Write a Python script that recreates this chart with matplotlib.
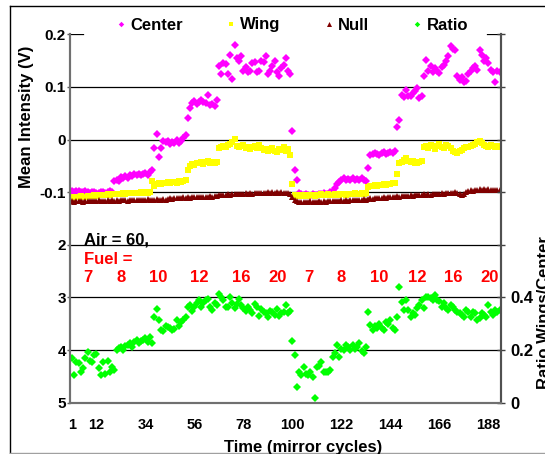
import numpy as np
import matplotlib
matplotlib.use("Agg")
import matplotlib.pyplot as plt
from matplotlib.lines import Line2D

plt.rcParams['font.family'] = ['Liberation Sans', 'DejaVu Sans']
plt.rcParams['font.weight'] = 'bold'

# mean intensity (V) per mirror cycle
center = [-0.098, -0.099, -0.097, -0.098, -0.100, -0.099, -0.098, -0.100, -0.101, -0.099,
          -0.100, -0.101, -0.102, -0.100, -0.099, -0.101, -0.100, -0.098, -0.099,
          -0.079, -0.076, -0.078, -0.072, -0.074, -0.070, -0.073, -0.067, -0.069, -0.066,
          -0.068, -0.065, -0.067, -0.066, -0.064, -0.068, -0.062, -0.058,
          -0.016, 0.010, -0.034, -0.016,
          -0.003, -0.005, -0.002, -0.008, -0.004, -0.006, -0.001, -0.007, -0.003, 0.002, 0.008,
          0.041, 0.060,
          0.070, 0.074, 0.068, 0.072, 0.075, 0.071, 0.069, 0.085, 0.066, 0.068, 0.063, 0.076,
          0.139, 0.125, 0.146, 0.144, 0.124, 0.161, 0.115, 0.179, 0.155, 0.150, 0.158, 0.130,
          0.137, 0.128, 0.130, 0.146, 0.147, 0.129, 0.130, 0.150, 0.147, 0.158, 0.125, 0.130,
          0.140, 0.150, 0.128, 0.120, 0.135, 0.142, 0.155, 0.131, 0.125,
          0.016, -0.058, -0.077,
          -0.101, -0.104, -0.106, -0.103, -0.105, -0.107, -0.104, -0.106, -0.105, -0.103,
          -0.104, -0.102, -0.104, -0.103, -0.100, -0.098,
          -0.092, -0.085, -0.080,
          -0.076, -0.074, -0.077, -0.075, -0.076, -0.074, -0.076, -0.075, -0.077, -0.074,
          -0.076, -0.078,
          -0.054,
          -0.030, -0.027, -0.025, -0.028, -0.029, -0.026, -0.024, -0.027, -0.025, -0.023,
          -0.026, -0.022,
          0.024, 0.038,
          0.085, 0.080, 0.095, 0.082, 0.083, 0.088, 0.092, 0.098, 0.078, 0.082,
          0.120, 0.152,
          0.130, 0.139, 0.128, 0.135, 0.130, 0.127, 0.138, 0.142,
          0.150, 0.158, 0.177, 0.172, 0.171,
          0.120, 0.113, 0.118, 0.110, 0.112,
          0.125, 0.130, 0.135, 0.140, 0.132, 0.171,
          0.160, 0.150, 0.155, 0.145,
          0.132, 0.128, 0.110, 0.130, 0.128]

wing = [-0.110, -0.111, -0.109, -0.110, -0.108, -0.109, -0.110, -0.108, -0.107, -0.108,
        -0.106, -0.107, -0.106, -0.105, -0.106, -0.105, -0.104, -0.105, -0.104,
        -0.104, -0.103, -0.104, -0.103, -0.102, -0.103, -0.102, -0.101, -0.102, -0.101,
        -0.102, -0.101, -0.100, -0.101, -0.100, -0.101, -0.099, -0.078,
        -0.088, -0.085, -0.083, -0.084, -0.082, -0.083, -0.081, -0.082, -0.080, -0.081,
        -0.082, -0.079, -0.080, -0.078, -0.076,
        -0.058, -0.050, -0.046, -0.048, -0.044, -0.045, -0.042, -0.046, -0.043, -0.041,
        -0.044, -0.042, -0.045, -0.043,
        -0.016, -0.014, -0.012, -0.015, -0.011, -0.008, -0.004, 0.001, -0.012, -0.015,
        -0.013, -0.010, -0.016, -0.014, -0.018, -0.015, -0.012, -0.016, -0.011, -0.017,
        -0.020, -0.018, -0.022, -0.019, -0.016, -0.021, -0.023, -0.018, -0.020, -0.015,
        -0.022, -0.018, -0.030,
        -0.084,
        -0.106, -0.107, -0.108, -0.106, -0.107, -0.105, -0.108, -0.106, -0.105, -0.107,
        -0.106, -0.105, -0.104, -0.106, -0.105, -0.104, -0.106, -0.105, -0.104, -0.103,
        -0.105, -0.104, -0.103, -0.105, -0.104, -0.103, -0.104, -0.102, -0.103, -0.104,
        -0.102, -0.103, -0.101,
        -0.090, -0.088, -0.089, -0.087, -0.088, -0.086, -0.087, -0.085, -0.086, -0.084,
        -0.085, -0.083, -0.082,
        -0.066, -0.044,
        -0.042, -0.038, -0.036, -0.040, -0.043, -0.041, -0.044, -0.045, -0.043, -0.040,
        -0.015, -0.012, -0.016, -0.010, -0.013, -0.018, -0.012, -0.009, -0.014, -0.016,
        -0.011, -0.013, -0.017, -0.021, -0.024, -0.026, -0.022, -0.020, -0.017, -0.015,
        -0.014, -0.012, -0.010, -0.008, -0.005, -0.003, -0.006, -0.010, -0.012, -0.014,
        -0.011, -0.013, -0.015, -0.012, -0.014]

null = [-0.117, -0.118, -0.117, -0.116, -0.117, -0.118, -0.117, -0.116, -0.117, -0.116,
        -0.117, -0.116, -0.115, -0.116, -0.117, -0.116, -0.115, -0.116, -0.115, -0.116,
        -0.115, -0.116, -0.115, -0.114, -0.115, -0.116, -0.115, -0.114, -0.115, -0.114,
        -0.115, -0.114, -0.115, -0.114, -0.113, -0.114, -0.115, -0.114, -0.113, -0.114,
        -0.114, -0.113, -0.114, -0.113, -0.112, -0.113, -0.112, -0.111, -0.112, -0.111,
        -0.110, -0.111, -0.110, -0.111, -0.110, -0.109, -0.110, -0.109, -0.110, -0.109,
        -0.110, -0.109, -0.108, -0.109, -0.108, -0.107,
        -0.106, -0.105, -0.106, -0.105, -0.104, -0.105, -0.104, -0.103, -0.104, -0.103,
        -0.104, -0.103, -0.102, -0.103, -0.102, -0.103, -0.102, -0.101, -0.102, -0.101,
        -0.102, -0.101, -0.100, -0.101, -0.100, -0.101, -0.100, -0.101, -0.100, -0.101,
        -0.102, -0.101, -0.104,
        -0.110, -0.114, -0.117,
        -0.118, -0.119, -0.118, -0.119, -0.118, -0.117, -0.118, -0.119, -0.118, -0.117,
        -0.118, -0.117, -0.118, -0.117, -0.116, -0.117, -0.116, -0.117, -0.116, -0.115,
        -0.116, -0.115, -0.116, -0.115, -0.114, -0.115, -0.114, -0.115,
        -0.114, -0.113, -0.114, -0.113, -0.112, -0.113, -0.112, -0.111, -0.112, -0.111,
        -0.110, -0.111, -0.110, -0.109, -0.110, -0.109, -0.108, -0.109, -0.108, -0.107,
        -0.108, -0.107, -0.106, -0.107, -0.106, -0.105, -0.106, -0.105, -0.104, -0.105,
        -0.104, -0.105, -0.104, -0.103, -0.104, -0.103, -0.102, -0.103, -0.102, -0.101,
        -0.102, -0.101, -0.100, -0.101, -0.104, -0.106, -0.103, -0.099, -0.097, -0.096,
        -0.097, -0.095, -0.096, -0.094, -0.095, -0.094, -0.095, -0.094, -0.095, -0.096,
        -0.095, -0.096, -0.095]

# ratio wings / center (secondary axis)
ratio = [0.169, 0.105, 0.156, 0.152, 0.118, 0.130, 0.169, 0.194, 0.160, 0.156,
         0.180, 0.185, 0.130, 0.105, 0.156, 0.110, 0.160, 0.118, 0.137,
         0.125, 0.200, 0.207, 0.210, 0.200, 0.215, 0.220, 0.226, 0.210, 0.230,
         0.238, 0.226, 0.235, 0.238, 0.245, 0.232, 0.250, 0.226,
         0.327, 0.355, 0.314, 0.276, 0.272, 0.290, 0.288, 0.282, 0.276, 0.280,
         0.314, 0.290, 0.305, 0.314, 0.327,
         0.365, 0.370, 0.350, 0.365, 0.377, 0.390, 0.365, 0.377, 0.390, 0.395,
         0.365, 0.352, 0.380, 0.370,
         0.413, 0.400, 0.390, 0.365, 0.365, 0.400, 0.380, 0.360, 0.375, 0.395,
         0.370, 0.360, 0.350, 0.365,
         0.352, 0.340, 0.375, 0.365, 0.330, 0.355, 0.345, 0.340, 0.327, 0.350,
         0.345, 0.335, 0.355, 0.330, 0.340, 0.345, 0.370, 0.340, 0.350,
         0.235, 0.181, 0.061,
         0.118, 0.105, 0.137, 0.110, 0.105, 0.118, 0.099,
         0.017,
         0.137, 0.140, 0.156, 0.118, 0.115, 0.118, 0.125,
         0.175, 0.190, 0.219, 0.175, 0.205, 0.200, 0.219, 0.212, 0.200, 0.219,
         0.205, 0.210, 0.226, 0.195, 0.190, 0.212,
         0.346,
         0.295, 0.276, 0.290, 0.282, 0.300, 0.282, 0.276, 0.308, 0.300, 0.314,
         0.282, 0.276, 0.327,
         0.441,
         0.384, 0.352, 0.390, 0.352, 0.327, 0.340, 0.333, 0.358, 0.371, 0.390,
         0.358, 0.400,
         0.400, 0.396, 0.390, 0.410, 0.392, 0.385, 0.365, 0.378, 0.358, 0.352,
         0.372, 0.365, 0.352, 0.346, 0.340, 0.333, 0.327, 0.352, 0.346, 0.327,
         0.346, 0.340, 0.314, 0.320, 0.340, 0.333, 0.327, 0.371, 0.346, 0.333,
         0.352, 0.346, 0.352]

cycles = np.arange(1, len(center) + 1)
xtick_vals = [1, 12, 34, 56, 78, 100, 122, 144, 166, 188]
left_ticks = [-0.5, -0.4, -0.3, -0.2, -0.1, 0.0, 0.1, 0.2]
left_labels = ['5', '4', '3', '2', '-0.1', '0', '0.1', '0.2']
fuel_labels = ['7', '8', '10', '12', '16', '20', '7', '8', '10', '12', '16', '20']
fuel_x = [8.0, 22.9, 39.5, 58.1, 76.9, 93.5, 107.5, 121.8, 139.0, 155.8, 172.2, 188.7]

fig = plt.figure(figsize=(5.45, 4.54), dpi=100)
ax = fig.add_axes([0.1284, 0.1130, 0.7908, 0.8115])
ax2 = ax.twinx()

for y in left_ticks[1:-1]:
    ax.axhline(y, color='black', lw=0.9, zorder=0.5)
ax.axhline(0.2, xmax=13 / 431, color='black', lw=0.9)
ax.axhline(0.2, xmin=417 / 431, color='black', lw=0.9)

h1, = ax.plot(cycles, center, ls='none', marker='D', ms=3.7, mew=0, color='#FF00FF', label='Center')
h2, = ax.plot(cycles, wing, ls='none', marker='s', ms=4.8, mew=0, color='#FFFF00', label='Wing')
h3, = ax.plot(cycles, null, ls='none', marker='^', ms=4.8, mew=0, color='#800000', label='Null')
h4, = ax2.plot(cycles, ratio, ls='none', marker='D', ms=3.7, mew=0, color='#00FF00', label='Ratio')

ax.set_xlim(0.1, 193.6)
ax.set_ylim(-0.5, 0.2)
ax.set_yticks(left_ticks)
ax.set_yticklabels(left_labels, fontsize=11, fontweight='bold')
ax.set_xticks(xtick_vals)
ax.set_xticklabels([str(v) for v in xtick_vals], fontsize=10.5, fontweight='bold')
ax.tick_params(axis='x', length=0, pad=11)
ax.tick_params(axis='y', length=2, width=1, color='#606060', pad=1)

ax2.set_ylim(0, 1.4)
ax2.set_yticks(np.arange(0, 1.41, 0.2))
ax2.set_yticklabels(['0', '0.2', '0.4', '', '', '', '', ''], fontsize=12, fontweight='bold')
ax2.tick_params(axis='y', direction='inout', length=6, width=1, color='#404040', pad=4)

for a in (ax, ax2):
    a.spines['top'].set_visible(False)
    a.spines['left'].set_color('#707070')
    a.spines['bottom'].set_color('#707070')
    a.spines['right'].set_color('#505050')
    for s in ('left', 'bottom', 'right'):
        a.spines[s].set_linewidth(1.5)

ax.text(6.4, -0.191, 'Air = 60,', color='black', fontsize=12, fontweight='bold',
        ha='left', va='center')
ax.text(6.4, -0.228, 'Fuel =', color='#FF0000', fontsize=12, fontweight='bold',
        ha='left', va='center')
for xv, lab in zip(fuel_x, fuel_labels):
    ax.text(xv, -0.263, lab, color='#FF0000', fontsize=12, fontweight='bold',
            ha='center', va='center')

fig.legend(handles=[h1, h2, h3, h4], loc='center', ncol=4,
           bbox_to_anchor=(292 / 545, 1 - 25 / 454), frameon=False,
           prop={'size': 12, 'weight': 'bold'}, handlelength=0.6,
           handletextpad=0.25, columnspacing=2.6, markerscale=0.75)

fig.text(27 / 545, 1 - 116.5 / 454, 'Mean Intensity (V)', rotation=90,
         ha='center', va='center', fontsize=12, fontweight='bold')
# the right-hand label runs off the edge of the original picture
fig.text(537 / 545, 1 - 313 / 454, 'Ratio Wings/Center', rotation=90,
         ha='left', va='center', fontsize=12, fontweight='bold')
fig.text(303 / 545, 1 - 452 / 454, 'Time (mirror cycles)', ha='center',
         va='baseline', fontsize=12, fontweight='bold')

# outer frame of the pasted chart
W, H = 545, 454
fig.add_artist(Line2D([10 / W, 10 / W], [1 - 6 / H, 1 - 453 / H], color='black', lw=1,
                      transform=fig.transFigure))
fig.add_artist(Line2D([10 / W, 1], [1 - 6 / H, 1 - 6 / H], color='black', lw=1,
                      transform=fig.transFigure))
fig.add_artist(Line2D([10 / W, 1], [1 - 453 / H, 1 - 453 / H], color='#a0a0a0', lw=1,
                      transform=fig.transFigure))

fig.savefig('out.png', dpi=100)
